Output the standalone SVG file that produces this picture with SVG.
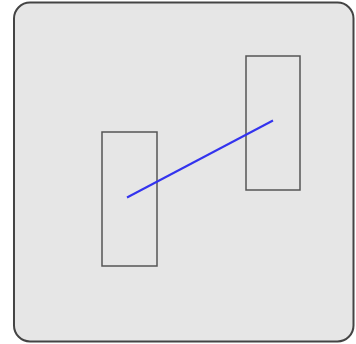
<svg xmlns="http://www.w3.org/2000/svg" width="356" height="344" viewBox="0 0 356 344">
<style>
.box{fill:none;stroke:#555;stroke-width:1.5}
.edge{stroke:#3333ee;stroke-width:2;fill:none}
</style>
<rect x="0" y="0" width="356" height="344" fill="#fff"/>
<g id="panel"><rect x="14" y="2.5" width="339.5" height="339" rx="16" ry="16" fill="#e6e6e6" stroke="#444" stroke-width="2"/></g>
<g id="nodeA"><rect class="box" x="102" y="132" width="55" height="134"/></g>
<g id="nodeB"><rect class="box" x="246" y="56" width="54" height="134"/></g>
<g id="connectors"><line class="edge" x1="127" y1="197.5" x2="273" y2="120.5"/></g>
</svg>
